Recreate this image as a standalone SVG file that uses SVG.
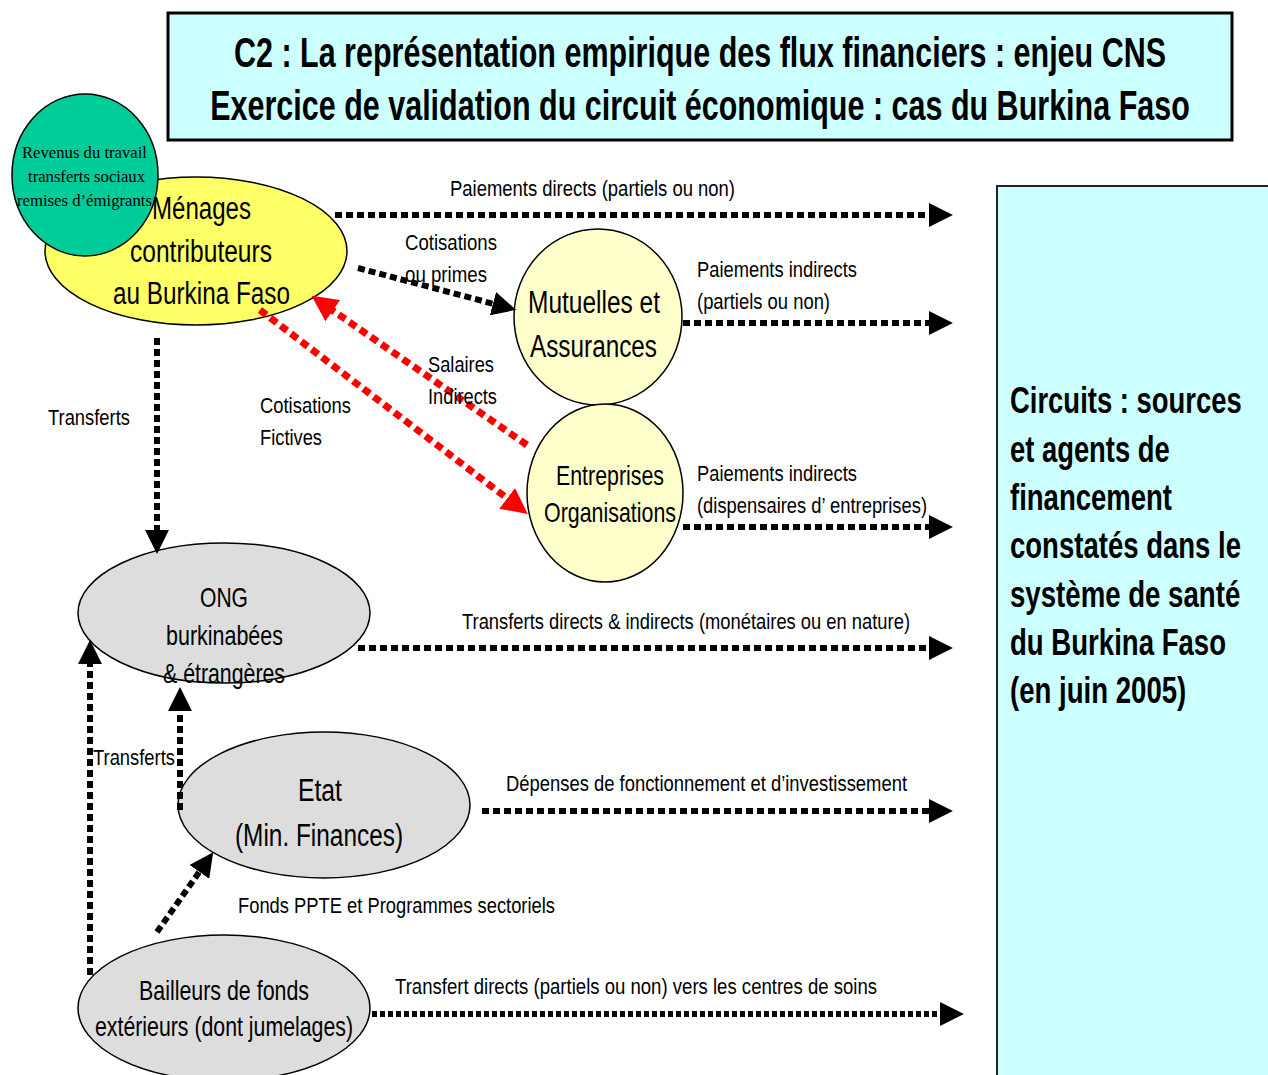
<svg xmlns="http://www.w3.org/2000/svg" width="1268" height="1075" viewBox="0 0 1268 1075">
<style>
text{font-family:"Liberation Sans",Arial,sans-serif;fill:#000}
.t{font-size:42px;font-weight:bold}
.rb{font-size:37px;font-weight:bold}
.n{font-size:31px}
.n2{font-size:28px}
.lb{font-size:22px}
.gr{font-family:"Liberation Serif","Times New Roman",serif;font-size:17px}
.el{stroke:#000;stroke-width:1.5}
.blk{fill:none;stroke:#000;stroke-width:6;stroke-dasharray:7 4}
.blk2{fill:none;stroke:#000;stroke-width:6;stroke-dasharray:5 3}
.red{fill:none;stroke:#ff0000;stroke-width:7;stroke-dasharray:8 5}
</style>
<defs>
<marker id="ah" markerUnits="userSpaceOnUse" markerWidth="24" markerHeight="24" viewBox="0 0 22 22" refX="1" refY="11" orient="auto">
<path d="M0,0 L22,11 L0,22 z" fill="#000"/>
</marker>
<marker id="ahr" markerUnits="userSpaceOnUse" markerWidth="26" markerHeight="26" viewBox="0 0 24 24" refX="1" refY="12" orient="auto">
<path d="M0,0 L24,12 L0,24 z" fill="#ff0000"/>
</marker>
</defs>
<rect width="1268" height="1075" fill="#fff"/>

<g id="title">
<rect x="168" y="13" width="1064" height="127" fill="#ccffff" stroke="#000" stroke-width="3"/>
<text class="t" transform="translate(700,67) scale(0.78,1)" text-anchor="middle" textLength="1195" lengthAdjust="spacingAndGlyphs">C2 : La représentation empirique des flux financiers : enjeu CNS</text>
<text class="t" transform="translate(700,120) scale(0.78,1)" text-anchor="middle" textLength="1256" lengthAdjust="spacingAndGlyphs">Exercice de validation du circuit économique : cas du Burkina Faso</text>
</g>

<g id="circuits">
<rect x="997" y="186" width="280" height="900" fill="#ccffff" stroke="#222" stroke-width="2"/>
<text class="rb" transform="translate(1010,413) scale(0.75,1)" textLength="309" lengthAdjust="spacingAndGlyphs">Circuits : sources</text>
<text class="rb" transform="translate(1010,462) scale(0.75,1)" textLength="213" lengthAdjust="spacingAndGlyphs">et agents de</text>
<text class="rb" transform="translate(1010,510) scale(0.75,1)" textLength="216" lengthAdjust="spacingAndGlyphs">financement</text>
<text class="rb" transform="translate(1010,558) scale(0.75,1)" textLength="308" lengthAdjust="spacingAndGlyphs">constatés dans le</text>
<text class="rb" transform="translate(1010,607) scale(0.75,1)" textLength="307" lengthAdjust="spacingAndGlyphs">système de santé</text>
<text class="rb" transform="translate(1010,655) scale(0.75,1)" textLength="288" lengthAdjust="spacingAndGlyphs">du Burkina Faso</text>
<text class="rb" transform="translate(1010,703) scale(0.75,1)" textLength="235" lengthAdjust="spacingAndGlyphs">(en juin 2005)</text>
</g>

<g id="menages">
<ellipse class="el" cx="196" cy="251" rx="151" ry="74" fill="#ffff66"/>
</g>

<g id="revenus">
<ellipse class="el" cx="85" cy="175" rx="73" ry="81" fill="#00cc99"/>
<text class="gr" x="84.5" y="158" text-anchor="middle" textLength="125" lengthAdjust="spacingAndGlyphs">Revenus du travail</text>
<text class="gr" x="86.5" y="182" text-anchor="middle" textLength="117" lengthAdjust="spacingAndGlyphs">transferts sociaux</text>
<text class="gr" x="84.5" y="206" text-anchor="middle" textLength="135" lengthAdjust="spacingAndGlyphs">remises d’émigrants</text>
</g>

<g id="menages-label">
<text class="n" x="201.5" y="219" text-anchor="middle" textLength="99" lengthAdjust="spacingAndGlyphs">Ménages</text>
<text class="n" x="201" y="262" text-anchor="middle" textLength="142" lengthAdjust="spacingAndGlyphs">contributeurs</text>
<text class="n" x="201.5" y="304" text-anchor="middle" textLength="177" lengthAdjust="spacingAndGlyphs">au Burkina Faso</text>
</g>

<g id="mutuelles">
<ellipse class="el" cx="598" cy="317" rx="84" ry="88" fill="#ffffcc"/>
<text class="n" x="594" y="313" text-anchor="middle" textLength="132" lengthAdjust="spacingAndGlyphs">Mutuelles et</text>
<text class="n" x="593.5" y="357" text-anchor="middle" textLength="127" lengthAdjust="spacingAndGlyphs">Assurances</text>
</g>

<g id="entreprises">
<ellipse class="el" cx="605" cy="493" rx="78" ry="89" fill="#ffffcc"/>
<text class="n2" x="610" y="485" text-anchor="middle" textLength="108" lengthAdjust="spacingAndGlyphs">Entreprises</text>
<text class="n2" x="610" y="522" text-anchor="middle" textLength="132" lengthAdjust="spacingAndGlyphs">Organisations</text>
</g>

<g id="ong">
<ellipse class="el" cx="224" cy="613" rx="146" ry="70" fill="#dddddd"/>
<text class="n2" x="224" y="607" text-anchor="middle" textLength="48" lengthAdjust="spacingAndGlyphs">ONG</text>
<text class="n2" x="224.5" y="645" text-anchor="middle" textLength="117" lengthAdjust="spacingAndGlyphs">burkinabées</text>
<text class="n2" x="224" y="683" text-anchor="middle" textLength="122" lengthAdjust="spacingAndGlyphs">&amp; étrangères</text>
</g>

<g id="etat">
<ellipse class="el" cx="324" cy="805" rx="146" ry="73" fill="#dddddd"/>
<text class="n" x="320" y="801" text-anchor="middle" textLength="44" lengthAdjust="spacingAndGlyphs">Etat</text>
<text class="n" x="319" y="846" text-anchor="middle" textLength="168" lengthAdjust="spacingAndGlyphs">(Min. Finances)</text>
</g>

<g id="bailleurs">
<ellipse class="el" cx="224" cy="1008" rx="146" ry="73" fill="#dddddd"/>
<text class="n2" x="224" y="1000" text-anchor="middle" textLength="170" lengthAdjust="spacingAndGlyphs">Bailleurs de fonds</text>
<text class="n2" x="224" y="1036" text-anchor="middle" textLength="258" lengthAdjust="spacingAndGlyphs">extérieurs (dont jumelages)</text>
</g>

<g id="connectors">
<path class="blk" d="M335,215 H930" marker-end="url(#ah)"/>
<path class="blk" d="M358,268 L494,304" marker-end="url(#ah)"/>
<path class="blk" d="M683,323 H930" marker-end="url(#ah)"/>
<path class="red" d="M527,445 L332,310" marker-end="url(#ahr)"/>
<path class="red" d="M260,310 L508,499" marker-end="url(#ahr)"/>
<path class="blk" d="M683,527 H930" marker-end="url(#ah)"/>
<path class="blk" d="M157,338 V531" marker-end="url(#ah)"/>
<path class="blk" d="M358,648 H930" marker-end="url(#ah)"/>
<path class="blk" d="M180,810 V710" marker-end="url(#ah)"/>
<path class="blk" d="M90,975 V663" marker-end="url(#ah)"/>
<path class="blk" d="M157,932 L200,871" marker-end="url(#ah)"/>
<path class="blk" d="M482,811 H930" marker-end="url(#ah)"/>
<path class="blk2" d="M372,1014 H941" marker-end="url(#ah)"/>
</g>

<g id="labels">
<text class="lb" x="450" y="196" textLength="285" lengthAdjust="spacingAndGlyphs">Paiements directs (partiels ou non)</text>
<text class="lb" x="405" y="250" textLength="92" lengthAdjust="spacingAndGlyphs">Cotisations</text>
<text class="lb" x="405" y="282" textLength="82" lengthAdjust="spacingAndGlyphs">ou primes</text>
<text class="lb" x="697" y="277" textLength="160" lengthAdjust="spacingAndGlyphs">Paiements indirects</text>
<text class="lb" x="697" y="309" textLength="133" lengthAdjust="spacingAndGlyphs">(partiels ou non)</text>
<text class="lb" x="428" y="372" textLength="66" lengthAdjust="spacingAndGlyphs">Salaires</text>
<text class="lb" x="428" y="404" textLength="69" lengthAdjust="spacingAndGlyphs">Indirects</text>
<text class="lb" x="260" y="413" textLength="91" lengthAdjust="spacingAndGlyphs">Cotisations</text>
<text class="lb" x="260" y="445" textLength="62" lengthAdjust="spacingAndGlyphs">Fictives</text>
<text class="lb" x="48" y="425" textLength="82" lengthAdjust="spacingAndGlyphs">Transferts</text>
<text class="lb" x="697" y="481" textLength="160" lengthAdjust="spacingAndGlyphs">Paiements indirects</text>
<text class="lb" x="697" y="513" textLength="230" lengthAdjust="spacingAndGlyphs">(dispensaires d’ entreprises)</text>
<text class="lb" x="462" y="629" textLength="448" lengthAdjust="spacingAndGlyphs">Transferts directs &amp; indirects (monétaires ou en nature)</text>
<text class="lb" x="93" y="765" textLength="82" lengthAdjust="spacingAndGlyphs">Transferts</text>
<text class="lb" x="506" y="791" textLength="401" lengthAdjust="spacingAndGlyphs">Dépenses de fonctionnement et d’investissement</text>
<text class="lb" x="238" y="913" textLength="317" lengthAdjust="spacingAndGlyphs">Fonds PPTE et Programmes sectoriels</text>
<text class="lb" x="395" y="994" textLength="482" lengthAdjust="spacingAndGlyphs">Transfert directs (partiels ou non)  vers les centres de soins</text>
</g>
</svg>
